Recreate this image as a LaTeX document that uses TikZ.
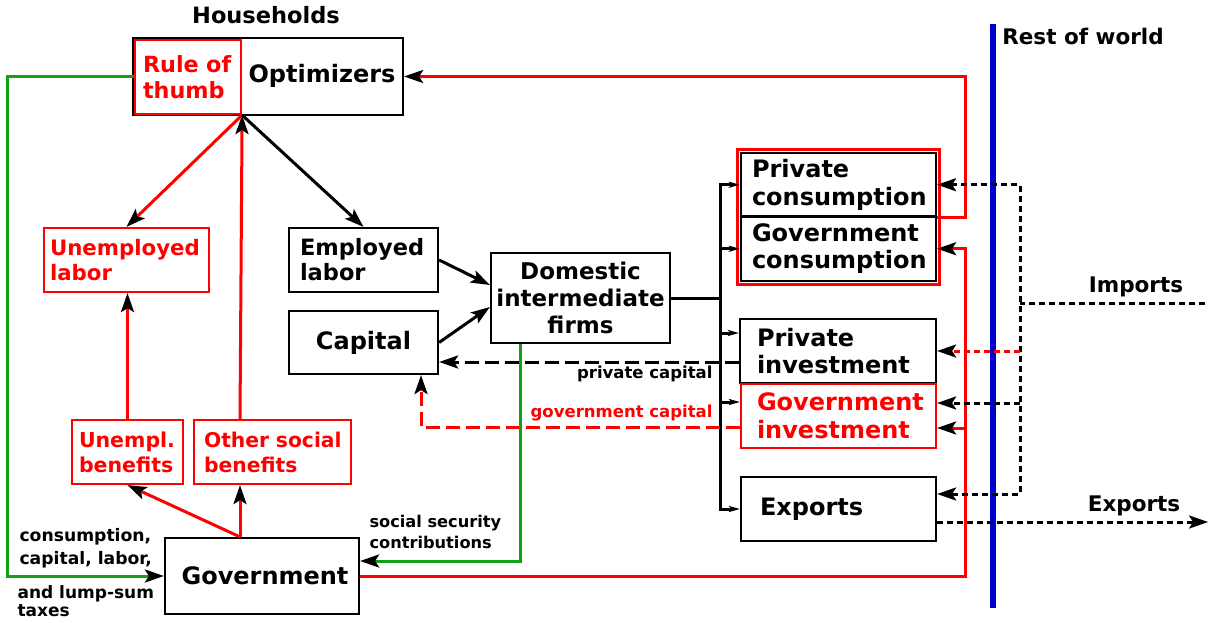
\documentclass[tikz,border=0pt]{standalone}
\usepackage{fontspec}
\setmainfont{DejaVu Sans}
\usetikzlibrary{arrows.meta,calc}
\definecolor{rd}{RGB}{255,0,0}
\definecolor{gn}{RGB}{20,160,20}
\definecolor{bu}{RGB}{0,0,204}

\begin{document}
\begin{tikzpicture}[x=1pt,y=-1pt,
  big/.style={font=\bfseries\fontsize{24}{27.5}\selectfont},
  mid/.style={font=\bfseries\fontsize{21.3}{25}\selectfont},
  small/.style={font=\bfseries\fontsize{16.5}{21}\selectfont},
  title/.style={font=\bfseries\fontsize{21.5}{25}\selectfont},
  bx/.style={draw, line width=2.2pt, inner ysep=0pt, align=left},
  cbx/.style={draw, line width=2.2pt, inner sep=0pt, align=center},
  rbx/.style={bx, draw=rd, text=rd},
  conn/.style={line width=3pt},
  bline/.style={conn, black},
  rline/.style={conn, rd},
  gline/.style={conn, gn},
  dashline/.style={conn, dash pattern=on 14pt off 6pt},
  dotline/.style={conn, dash pattern=on 6pt off 4pt},
  bigtip/.style={-{Stealth[length=19pt,width=13pt,inset=4pt,color=black]}},
  smalltip/.style={-{Stealth[length=11pt,width=6pt,inset=2.5pt,color=black]}},
]
\useasboundingbox (0,0) rectangle (1212,623);

% ---- titles
\node[title, font=\bfseries\fontsize{22.5}{25}\selectfont] (thh) at (266,15) {Households};
\node[title] (trw) at (1083,36) {Rest of world};

% ---- households
\node[cbx, minimum width=270pt, minimum height=77pt] (hh) at (268,76.5) {};
\node[rbx, minimum width=106pt, minimum height=74pt, inner xsep=8pt, text width=90pt,
      font=\bfseries\fontsize{22.3}{25.5}\selectfont] (rot) at (188,77) {Rule of\\thumb};
\node[big] (opt) at (322,76) {Optimizers};

% ---- labour, capital, firms
\node[rbx, mid, minimum width=165pt, minimum height=64pt, inner xsep=6pt, text width=153pt] (ul) at (126.5,260) {Unemployed\\labor};
\node[bx, big, font=\bfseries\fontsize{22.5}{25}\selectfont, minimum width=149pt, minimum height=64pt, inner xsep=11pt, text width=127pt] (el) at (363.5,260) {Employed\\labor};
\node[cbx, big, minimum width=149pt, minimum height=63pt] (cap) at (363.5,342.5) {Capital};
\node[cbx, big, font=\bfseries\fontsize{23}{27}\selectfont, minimum width=179pt, minimum height=90pt] (firms) at (580.5,298) {Domestic\\intermediate\\firms};

% ---- demand components
\node[bx, big, minimum width=195pt, minimum height=63.5pt, inner xsep=11pt, text width=173pt] (pc) at (838.5,184.75) {Private\\consumption};
\node[bx, big, minimum width=195pt, minimum height=64.5pt, inner xsep=11pt, text width=173pt] (gc) at (838.5,248.75) {Government\\consumption};
\draw[rd, line width=2.6pt] ($(pc.north west)+(-2.3,-2.3)$) rectangle ($(gc.south east)+(2.3,2.3)$);
\node[bx, big, minimum width=196pt, minimum height=64pt, inner xsep=17pt, text width=162pt] (pi) at (838,351) {Private\\investment};
\node[rbx, big, minimum width=195pt, minimum height=64pt, inner xsep=16pt, text width=163pt] (gi) at (838.5,416) {Government\\investment};
\node[bx, big, minimum width=195pt, minimum height=64pt, inner xsep=19pt, text width=157pt] (ex) at (838.5,509) {Exports};

% ---- benefits and government
\node[rbx, mid, font=\bfseries\fontsize{20.5}{25}\selectfont, minimum width=111pt, minimum height=64pt, inner xsep=7pt, text width=97pt] (ub) at (127.5,452) {Unempl.\\benefits};
\node[rbx, mid, font=\bfseries\fontsize{20.3}{25}\selectfont, minimum width=157pt, minimum height=64pt, inner xsep=10pt, text width=137pt] (osb) at (272.5,452) {\mbox{Other social}\\benefits};
\node[cbx, big, minimum width=194pt, minimum height=76pt] (gov) at (262,576) {\hspace*{6pt}Government};

% ---- rest of world border
\coordinate (rwtop) at (993,24);
\coordinate (rwbot) at (993,608);
\draw[bu, line width=6.5pt] (rwtop) -- (rwbot);

% ---- bus coordinates
\coordinate (rb) at (965,0);   % red government/consumption bus
\coordinate (ib) at (1020,0);  % imports bus
\coordinate (db) at (720,0);   % distribution bus from firms

% ---- household flows
\coordinate (gt) at ([xshift=-22pt]gov.north);
\draw[rline, bigtip] (gt) -- (ub.south);
\draw[rline, bigtip] (gt) -- (gt |- osb.south);
\draw[rline, bigtip] (gt |- osb.north) -- (rot.south east);
\draw[rline, bigtip] (rot.south east) -- (ul.north);
\draw[bline, bigtip] (rot.south east) -- (el.north);
\draw[rline, bigtip] (ub.north) -- (ub.north |- ul.south);

% ---- production
\draw[bline, bigtip] (el.east) -- ([yshift=13pt]firms.west);
\draw[bline, bigtip] (cap.east) -- ([yshift=-9pt]firms.west);
\draw[bline] (firms.east) -- (firms.east -| db);
\draw[bline, {Stealth[length=11pt,width=6pt,inset=2.5pt]}-{Stealth[length=11pt,width=6pt,inset=2.5pt]}]
  (pc.west) -- (db |- pc.west) -- (db |- ex.west) -- (ex.west);
\coordinate (pia) at ([yshift=18pt]pi.west);
\coordinate (gin) at ([yshift=14pt]gi.west);
\draw[bline, smalltip] (db |- gc.west) -- (gc.west);
\draw[bline, smalltip] (db |- pia) -- (pia);
\draw[bline, smalltip] (db |- gin) -- (gin);

% ---- capital accumulation
\coordinate (pk) at ([yshift=-11pt]pi.west);
\draw[dashline, bigtip] (pk) -- (pk -| cap.east);
\node[small, anchor=east] (lpk) at (716,374) {private capital};
\coordinate (gk) at ([yshift=-11pt]gi.west);
\draw[dashline, rd, bigtip] (gk) -| ([xshift=57.5pt]cap.south);
\node[small, anchor=east, text=rd] (lgk) at (716,413) {government capital};

% ---- taxes
\draw[gline, bigtip] (rot.west) -- ++(-126,0) |- (gov.west);
\node[small, anchor=west, align=left, font=\bfseries\fontsize{17.2}{23}\selectfont] (tx1) at (16,548) {consumption,\\capital, labor,};
\node[small, anchor=west, align=left, font=\bfseries\fontsize{17}{18.5}\selectfont] (tx2) at (14,601) {and lump-sum\\taxes};
\coordinate (ss) at ([xshift=-60.5pt]firms.south);
\draw[gline, bigtip] (ss) |- ([yshift=15pt]gov.east);
\node[small, anchor=west, align=left, font=\bfseries\fontsize{16.2}{21}\selectfont] (lss) at (366,532) {social security\\contributions};

% ---- government spending and consumption income
\draw[rline, bigtip] (pc.south east) -- (pc.south east -| rb) |- (hh.east);
\draw[rline, bigtip] (gov.east) -| (rb |- gc.east) -- (gc.east);
\coordinate (gia) at ([yshift=-12pt]gi.east);
\draw[rline, bigtip] (rb |- gia) -- (gia);

% ---- imports and exports
\coordinate (imp) at (1205,303);
\coordinate (exa) at ([yshift=15pt]ex.east);
\coordinate (gib) at ([yshift=13pt]gi.east);
\draw[dotline] (imp) -- (imp -| ib);
\draw[dotline, {Stealth[length=19pt,width=13pt,inset=4pt]}-{Stealth[length=19pt,width=13pt,inset=4pt]}]
  (pc.east) -- (pc.east -| ib) -- (ib |- exa) -- (exa);
\draw[dotline, bigtip] (ib |- gib) -- (gib);
\draw[dotline, rd, bigtip] (ib |- pi.east) -- (pi.east);
\node[title] (limp) at (1136,287) {Imports};
\coordinate (exo) at ([yshift=-13pt]ex.east);
\draw[dotline, bigtip] (exo) -- ++(271,0);
\node[title] (lexp) at (1134,506) {Exports};
\end{tikzpicture}
\end{document}
